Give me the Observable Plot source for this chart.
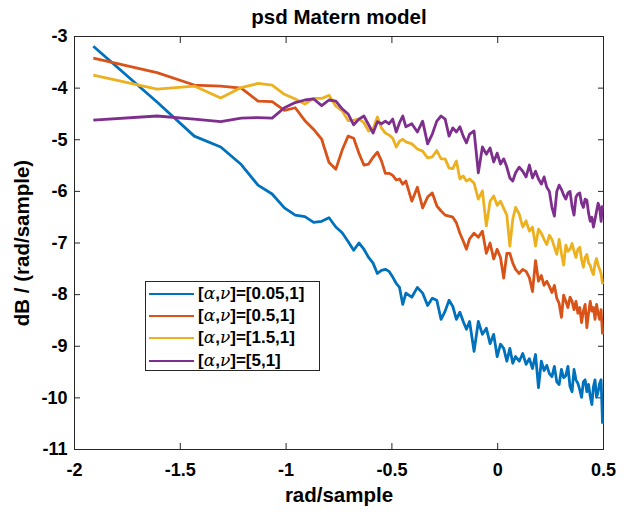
<!DOCTYPE html>
<html>
<head>
<meta charset="utf-8">
<script src="https://cdn.jsdelivr.net/npm/d3@7"></script>
<script src="https://cdn.jsdelivr.net/npm/@observablehq/plot@0.6"></script>
<style>
  html, body { margin: 0; padding: 0; background: #fff; }
  #wrap { position: relative; width: 627px; height: 514px; font-family: "Liberation Sans", Arial, sans-serif; }
  #legend { position: absolute; left: 145px; top: 281px; width: 175px; height: 90px; border: 1px solid #262626; background: #fff; box-sizing: border-box; }
  .row { position: absolute; left: 0; height: 22px; width: 100%; }
  .swatch { position: absolute; left: 3px; width: 45px; height: 0; top: 10px; }
  .lbl { position: absolute; left: 52px; top: 0px; font-size: 17px; font-weight: bold; color: #000; white-space: nowrap; line-height: 21px; }
  .gk { font-family: "DejaVu Serif", serif; font-style: italic; font-weight: normal; }
</style>
</head>
<body>
<div id="wrap"><div id="legend"></div></div>
<script>
// frequency bin indices (N = 512), x = log10(bin * 2*pi / 512)
const freqBins = [1,2,3,4,5,6,7,8,9,10,11,12,13,14,15,16,17,18,19,20,21,22,23,24,25,26,27,28,29,30,
  32,34,36,38,40,42,44,46,48,50,52,54,56,58,60,
  63,66,69,72,75,78,81,84,87,90,93,96,99,
  103,107,111,115,119,123,127,131,135,139,143,147,151,155,159,163,167,171,175,179,183,187,191,195,199,203,207,211,215,219,223,227,231,235,239,243,247,251,255];

const alpha005 = [-3.19,-4.27,-4.93,-5.14,-5.48,-5.88,-6.05,-6.32,-6.46,-6.49,-6.60,-6.58,-6.51,-6.69,-6.80,-6.97,
  -7.14,-7.00,-7.12,-7.28,-7.39,-7.59,-7.53,-7.51,-7.55,-7.66,-7.78,-7.86,-8.19,-7.97,
  -8.05,-7.86,-7.97,-8.21,-8.07,-8.11,-8.48,-8.32,-8.11,-8.23,-8.48,-8.34,-8.52,-8.67,-8.52,
  -9.10,-8.52,-8.77,-8.65,-8.95,-8.77,-9.20,-8.96,-9.04,-9.29,-9.04,-9.33,-9.20,
  -9.29,-9.14,-9.35,-9.24,-9.43,-9.16,-9.80,-9.29,-9.47,-9.37,-9.53,-9.59,-9.39,-9.69,-9.74,-9.45,-9.61,-9.57,-9.39,-9.78,-9.88,-9.45,-9.65,-9.72,-9.84,-9.99,-9.69,-9.65,-9.88,-9.74,-9.97,-10.13,-9.78,-9.65,-9.99,-9.88,-9.72,-9.65,-10.50];

const alpha05 = [-3.42,-3.70,-3.94,-3.96,-4.00,-4.25,-4.26,-4.43,-4.38,-4.63,-4.80,-4.99,-5.44,-5.57,-5.20,-4.93,
  -4.97,-5.26,-5.49,-5.47,-5.34,-5.24,-5.41,-5.65,-5.65,-5.69,-5.78,-5.76,-5.86,-5.80,
  -6.19,-5.92,-6.32,-6.11,-6.03,-6.28,-6.38,-6.46,-6.48,-6.50,-6.61,-6.81,-6.96,-7.12,-6.92,
  -6.81,-6.89,-6.77,-7.20,-7.00,-7.31,-7.12,-7.28,-7.68,-7.20,-7.20,-7.39,-7.51,
  -7.59,-7.51,-7.55,-7.67,-7.94,-7.34,-7.74,-7.63,-7.82,-7.74,-7.84,-7.96,-7.82,-8.07,-8.17,-8.44,-8.01,-8.13,-8.25,-8.05,-8.13,-8.29,-8.13,-8.36,-8.25,-8.54,-8.32,-8.19,-8.64,-8.36,-8.13,-8.32,-8.25,-8.48,-8.19,-8.36,-8.48,-8.29,-8.77];

const alpha15 = [-3.75,-4.02,-3.96,-4.19,-3.99,-3.91,-3.94,-4.12,-4.21,-4.31,-4.20,-4.20,-4.14,-4.35,-4.44,-4.63,
  -4.62,-4.60,-4.67,-4.83,-4.79,-4.56,-4.77,-4.87,-4.91,-4.97,-5.14,-5.03,-4.99,-5.04,
  -5.08,-5.18,-5.22,-5.35,-5.33,-5.21,-5.37,-5.37,-5.55,-5.56,-5.41,-5.76,-5.70,-5.80,-5.76,
  -5.84,-6.15,-5.99,-6.67,-6.19,-6.09,-6.27,-6.19,-6.33,-6.46,-7.06,-6.54,-6.31,
  -6.44,-6.69,-6.57,-6.77,-6.69,-7.06,-6.73,-6.81,-6.93,-7.03,-6.85,-6.93,-7.08,-7.22,-6.93,-7.20,-7.43,-7.04,-7.16,-7.12,-7.01,-7.16,-7.28,-7.12,-7.08,-7.32,-7.47,-7.28,-7.22,-7.39,-7.43,-7.55,-7.61,-7.39,-7.30,-7.43,-7.51,-7.59,-7.80];

const alpha5 = [-4.62,-4.54,-4.60,-4.65,-4.58,-4.57,-4.58,-4.38,-4.28,-4.23,-4.21,-4.34,-4.23,-4.25,-4.40,-4.50,
  -4.71,-4.60,-4.54,-4.71,-4.87,-4.65,-4.69,-4.64,-4.69,-4.60,-4.85,-4.67,-4.54,-4.75,
  -4.69,-4.85,-4.64,-5.08,-4.89,-4.64,-4.54,-4.60,-4.93,-4.77,-4.85,-4.75,-4.93,-5.06,-4.89,
  -4.83,-5.64,-5.14,-5.28,-5.16,-5.43,-5.26,-5.47,-5.37,-5.53,-5.74,-5.80,-5.64,
  -5.53,-5.61,-5.72,-5.49,-5.74,-5.61,-5.76,-5.86,-5.72,-5.92,-6.00,-6.31,-6.48,-6.00,-5.88,-5.96,-6.07,-6.15,-6.03,-6.00,-6.29,-6.46,-6.11,-6.05,-6.03,-6.23,-6.31,-6.15,-6.17,-6.42,-6.58,-6.50,-6.69,-6.54,-6.38,-6.23,-6.31,-6.58,-6.27];

const seriesNames = ["[0.05,1]", "[0.5,1]", "[1.5,1]", "[5,1]"];
const seriesColors = ["#0072BD", "#D95319", "#EDB120", "#7E2F8E"];
const xTicks = [-2, -1.5, -1, -0.5, 0, 0.5];
const yTicks = [-3, -4, -5, -6, -7, -8, -9, -10, -11];
const titleText = "psd Matern model";
const xLabel = "rad/sample";
const yLabel = "dB / (rad/sample)";

const seriesValues = [alpha005, alpha05, alpha15, alpha5];
const rows = [];
seriesValues.forEach((vals, si) => {
  vals.forEach((v, i) => rows.push({series: seriesNames[si], x: Math.log10(freqBins[i] * 2 * Math.PI / 512), y: v}));
});

const fmt = d => String(d);
const axisColor = "#262626";

const chart = Plot.plot({
  width: 627,
  height: 514,
  marginLeft: 74,
  marginRight: 24,
  marginTop: 36,
  marginBottom: 65,
  style: {fontFamily: "'Liberation Sans', Arial, sans-serif", fontWeight: "bold", color: "#000", background: "#fff"},
  x: {domain: [-2, 0.5]},
  y: {domain: [-11, -3]},
  color: {domain: seriesNames, range: seriesColors},
  marks: [
    Plot.frame({stroke: axisColor, strokeWidth: 1}),
    Plot.axisX(xTicks, {anchor: "bottom", tickSize: -6, tickPadding: 20, tickFormat: fmt, label: null, fontSize: 18, fontWeight: "bold", stroke: axisColor, fill: "#000"}),
    Plot.axisX(xTicks, {anchor: "top", tickSize: -6, tickFormat: () => "", label: null, stroke: axisColor}),
    Plot.axisY(yTicks, {anchor: "left", tickSize: -6, tickPadding: 13, tickFormat: fmt, label: null, fontSize: 18, fontWeight: "bold", stroke: axisColor, fill: "#000"}),
    Plot.axisY(yTicks, {anchor: "right", tickSize: -6, tickFormat: () => "", label: null, stroke: axisColor}),
    Plot.line(rows, {x: "x", y: "y", z: "series", stroke: "series", strokeWidth: 2.8, strokeLinejoin: "round", strokeLinecap: "butt"}),
    Plot.text([titleText], {text: d => d, frameAnchor: "top", lineAnchor: "middle", textAnchor: "middle", dy: -19, fontSize: 20.5, fontWeight: "bold", fill: "#000"}),
    Plot.text([xLabel], {text: d => d, frameAnchor: "bottom", lineAnchor: "middle", textAnchor: "middle", dy: 46, fontSize: 20.5, fontWeight: "bold", fill: "#000"}),
    Plot.text([yLabel], {text: d => d, frameAnchor: "left", lineAnchor: "middle", textAnchor: "middle", dx: -52, rotate: -90, fontSize: 20.5, fontWeight: "bold", fill: "#000"})
  ]
});

const wrap = document.getElementById("wrap");
wrap.insertBefore(chart, wrap.firstChild);
chart.style.position = "absolute";
chart.style.left = "0";
chart.style.top = "0";

const legend = document.getElementById("legend");
seriesNames.forEach((name, i) => {
  const row = document.createElement("div");
  row.className = "row";
  row.style.top = (0.5 + i * 22.4) + "px";
  const sw = document.createElement("div");
  sw.className = "swatch";
  sw.style.borderTop = "2.8px solid " + seriesColors[i];
  const lbl = document.createElement("div");
  lbl.className = "lbl";
  lbl.innerHTML = '[<span class="gk">α</span>,<span class="gk">ν</span>]=' + name;
  row.appendChild(sw);
  row.appendChild(lbl);
  legend.appendChild(row);
});
</script>
</body>
</html>
